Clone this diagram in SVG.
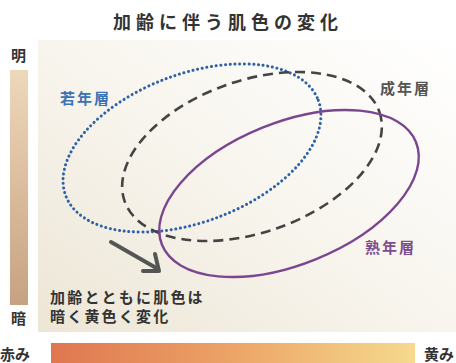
<svg xmlns="http://www.w3.org/2000/svg" width="456" height="363" viewBox="0 0 456 363">
<defs>
<linearGradient id="bg" x1="1" y1="0" x2="0" y2="1">
<stop offset="0" stop-color="#ffffff"/>
<stop offset="0.5" stop-color="#f8f5ee"/>
<stop offset="1" stop-color="#ede6d6"/>
</linearGradient>
<linearGradient id="vbar" x1="0" y1="0" x2="0" y2="1">
<stop offset="0" stop-color="#eed8ba"/>
<stop offset="1" stop-color="#c6a281"/>
</linearGradient>
<linearGradient id="hbar" x1="0" y1="0" x2="1" y2="0">
<stop offset="0" stop-color="#df7650"/>
<stop offset="0.5" stop-color="#eca466"/>
<stop offset="1" stop-color="#f6da8e"/>
</linearGradient>
<style>
.t{font-family:"Noto Sans CJK JP","Noto Sans CJK SC",sans-serif;font-weight:700}
.lbl{font-size:15px;letter-spacing:2px}
.ax{font-size:15px;fill:#333}
.el{fill:none}
</style>
</defs>
<rect width="456" height="363" fill="#ffffff"/>
<rect x="38" y="40" width="418" height="292" fill="url(#bg)"/>
<rect x="10" y="70" width="18" height="235" fill="url(#vbar)"/>
<rect x="51" y="343" width="364" height="20" fill="url(#hbar)"/>

<text class="t" x="228" y="29" font-size="18" fill="#333" text-anchor="middle" letter-spacing="5">加齢に伴う肌色の変化</text>
<text class="t ax" x="11" y="61">明</text>
<text class="t ax" x="11" y="324">暗</text>
<text class="t ax" x="0" y="360">赤み</text>
<text class="t ax" x="424" y="360">黄み</text>

<g id="connectors">
<g id="arrow" stroke="#555" stroke-width="4" fill="none" stroke-linecap="round" stroke-linejoin="round">
<line x1="111" y1="242" x2="158" y2="269"/>
<polyline points="143,271 159,271 155,254"/>
</g>
</g>

<g id="young">
<ellipse class="el" cx="192" cy="148" rx="135" ry="74" transform="rotate(-20.7 192 148)" stroke="#2e62a8" stroke-width="3" stroke-dasharray="0.1 4.6" stroke-linecap="round"/>
<text class="t lbl" x="60" y="104" fill="#3a72b6">若年層</text>
</g>
<g id="adult">
<ellipse class="el" cx="252" cy="156.5" rx="135" ry="76" transform="rotate(-19.3 252 156.5)" stroke="#444" stroke-width="2.6" stroke-dasharray="10 6"/>
<text class="t lbl" x="380" y="94" fill="#555">成年層</text>
</g>
<g id="senior">
<ellipse class="el" cx="289" cy="193.5" rx="137" ry="71" transform="rotate(-22 289 193.5)" stroke="#7b4590" stroke-width="2.4"/>
<text class="t lbl" x="365" y="253" fill="#7d4e8e">熟年層</text>
</g>

<g id="note">
<text class="t" x="50" y="303" font-size="15" fill="#333" letter-spacing="2.2">加齢とともに肌色は</text>
<text class="t" x="50" y="322" font-size="15" fill="#333" letter-spacing="2.2">暗く黄色く変化</text>
</g>
</svg>
